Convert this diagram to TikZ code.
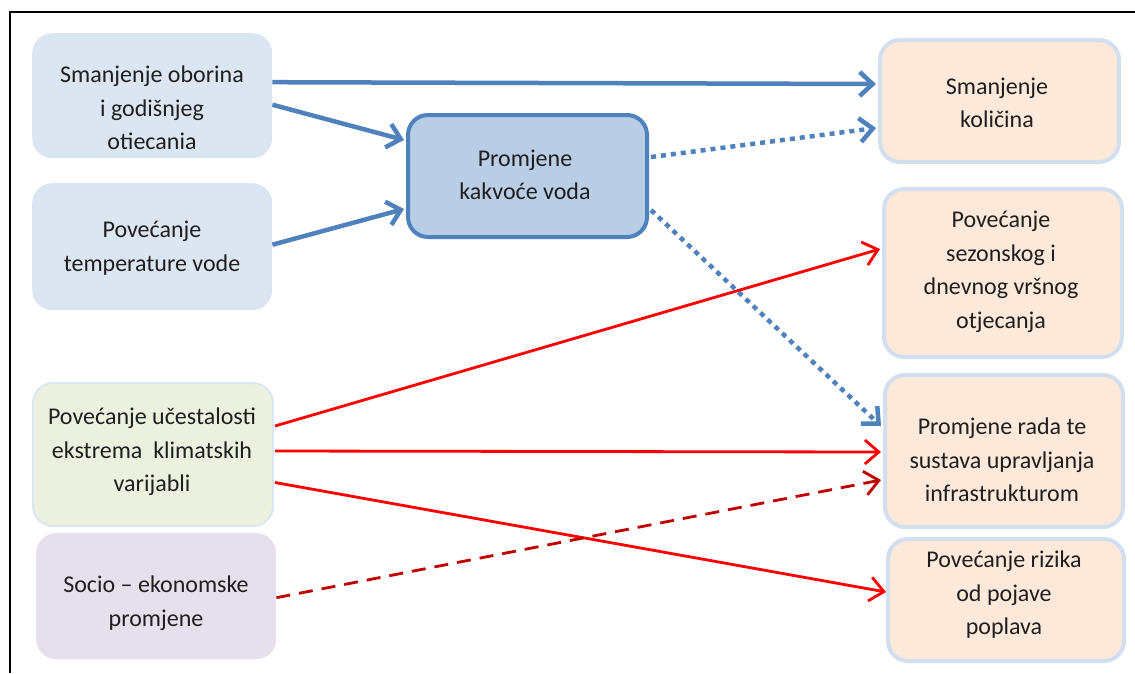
\documentclass[tikz,border=0pt]{standalone}
\usepackage{fontspec}
\setmainfont{Carlito}
\usetikzlibrary{arrows.meta}

\definecolor{srcblue}{HTML}{DCE6F2}
\definecolor{srcgreen}{HTML}{EBF1DE}
\definecolor{srcviolet}{HTML}{E5E0EC}
\definecolor{midfill}{HTML}{B9CDE5}
\definecolor{accent}{HTML}{4F81BD}
\definecolor{peach}{HTML}{FDE9D9}
\definecolor{rimblue}{HTML}{D3DFEE}
\definecolor{darkred}{HTML}{C00000}

\tikzset{
  box/.style={rounded corners=20pt, anchor=north west, inner sep=0pt},
  srcbox/.style={box, fill=srcblue},
  outbox/.style={box, fill=peach, draw=rimblue, line width=4pt},
  txt/.style={font=\fontsize{24}{33.5}\selectfont, align=center, text=black!88},
  bluearrow/.style={draw=accent, line width=4.5pt,
    -{Straight Barb[length=13pt,width=24pt]}},
  bluedots/.style={bluearrow, dash pattern=on 5pt off 5pt},
  redarrow/.style={draw=red, line width=2.8pt,
    -{Straight Barb[length=14pt,width=24pt]}},
  reddash/.style={draw=darkred, line width=2.8pt, dash pattern=on 14pt off 9pt,
    -{Straight Barb[length=14pt,width=24pt]}},
}

\begin{document}
\begin{tikzpicture}[x=1pt, y=-1pt]
\useasboundingbox (0,0) rectangle (1135,673);

% frame
\draw[line width=1.8pt] (1135,12) -- (10,12) -- (10,673);

% drivers on the left
\node[srcbox, minimum width=240pt, minimum height=125pt] (A) at (32,33) {};
\node[txt] (At) at (152,108) {Smanjenje oborina\\i godišnjeg\\otiecania};

\node[srcbox, minimum width=240pt, minimum height=127pt] (B) at (32,183) {};
\node[txt] (Bt) at (152,248) {Povećanje\\temperature vode};

\node[box, fill=srcgreen, draw=srcblue, line width=2pt,
      minimum width=240pt, minimum height=143pt] (C) at (32,382) {};
\node[txt] (Ct) at (152,452) {Povećanje učestalosti\\ekstrema\ \ klimatskih\\varijabli};

\node[box, fill=srcviolet, minimum width=240pt, minimum height=126pt] (D) at (36,533) {};
\node[txt] (Dt) at (156,603) {Socio – ekonomske\\promjene};

% intermediate effect
\node[box, fill=midfill, draw=accent, line width=4pt,
      minimum width=239pt, minimum height=122pt] (E) at (406,113) {};
\node[txt] (Et) at (525,175) {Promjene\\kakvoće voda};

% consequences on the right
\node[outbox, minimum width=239pt, minimum height=122pt] (F) at (878,38) {};
\node[txt] (Ft) at (997,103) {Smanjenje\\količina};

\node[outbox, minimum width=238pt, minimum height=168pt] (G) at (882,187) {};
\node[txt] (Gt) at (1001,272) {Povećanje\\sezonskog i\\dnevnog vršnog\\otjecanja};

\node[outbox, minimum width=238pt, minimum height=152pt] (H) at (883,373) {};
\node[txt] (Ht) at (1002,460) {Promjene rada te\\sustava upravljanja\\infrastrukturom};

\node[outbox, minimum width=236pt, minimum height=122pt] (I) at (886,537) {};
\node[txt] (It) at (1004,595) {Povećanje rizika\\od pojave\\poplava};

% connectors
\draw[bluearrow] ([yshift=13.5pt]A.east) -- ([yshift=17pt,xshift=-2pt]F.west);
\draw[bluearrow] ([yshift=-9pt]A.east) -- ([yshift=36pt,xshift=-2pt]E.west);
\draw[bluearrow] ([yshift=2pt]B.east) -- ([yshift=-33pt,xshift=-2pt]E.west);
\draw[bluedots] ([yshift=19pt,xshift=2pt]E.east) -- ([yshift=-27pt,xshift=-2pt]F.west);
\draw[bluedots] ([yshift=-34pt,xshift=2pt]E.east) -- ([yshift=25pt,xshift=-2pt]H.west);

\draw[redarrow] ([yshift=28.5pt,xshift=1pt]C.east) -- ([yshift=24pt,xshift=-2pt]G.west);
\draw[redarrow] ([yshift=3.5pt,xshift=1pt]C.east) -- ([yshift=-1pt,xshift=-2pt]H.west);
\draw[redarrow] ([yshift=-28pt,xshift=1pt]C.east) -- ([yshift=8pt,xshift=0pt]I.west);
\draw[reddash] ([yshift=-1.5pt]D.east) -- ([yshift=-29pt,xshift=-2pt]H.west);
\end{tikzpicture}
\end{document}
